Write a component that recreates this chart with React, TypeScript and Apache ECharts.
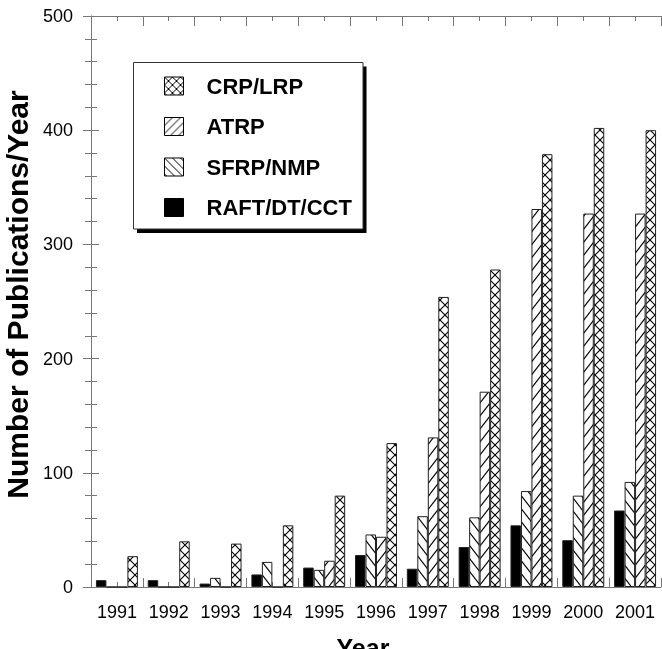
import React, { useEffect, useRef } from "react";
import * as echarts from "echarts";

const years = ["1991", "1992", "1993", "1994", "1995", "1996", "1997", "1998", "1999", "2000", "2001"];
const raftValues = [6, 6, 3, 11, 17, 28, 16, 35, 54, 41, 67];
const sfrpValues = [0, 0, 8, 22, 15, 46, 62, 61, 84, 80, 92];
const atrpValues = [0, 0, 0, 0, 23, 44, 131, 171, 331, 327, 327];
const crpValues = [27, 40, 38, 54, 80, 126, 254, 278, 379, 402, 400];
const seriesNames = ["RAFT/DT/CCT", "SFRP/NMP", "ATRP", "CRP/LRP"];
const legendOrder = ["CRP/LRP", "ATRP", "SFRP/NMP", "RAFT/DT/CCT"];

const FONT = "'Liberation Sans', Arial, Helvetica, sans-serif";

function hatch(fwd: boolean, back: boolean, w: number, h: number, lw: number) {
  const c = document.createElement("canvas");
  c.width = w;
  c.height = h;
  const g = c.getContext("2d")!;
  g.fillStyle = "#fff";
  g.fillRect(0, 0, w, h);
  g.strokeStyle = "#000";
  g.lineWidth = lw;
  for (const dx of [-w, 0, w]) {
    for (const dy of [-h, 0, h]) {
      g.beginPath();
      if (fwd) {
        g.moveTo(dx, dy + h);
        g.lineTo(dx + w, dy);
      }
      if (back) {
        g.moveTo(dx, dy);
        g.lineTo(dx + w, dy + h);
      }
      g.stroke();
    }
  }
  return { image: c.toDataURL(), repeat: "repeat", imageWidth: w, imageHeight: h } as any;
}

export default function App() {
  const ref = useRef<HTMLDivElement>(null);
  useEffect(() => {
    if (!ref.current) return;
    const chart = echarts.init(ref.current, null, { renderer: "svg" });

    const barFill: Record<string, any> = {
      "RAFT/DT/CCT": "#000",
      "SFRP/NMP": hatch(false, true, 10, 13, 1.1),
      ATRP: hatch(true, false, 10, 13, 1.1),
      "CRP/LRP": hatch(true, true, 10, 10, 1.1),
    };
    const legendFill: Record<string, any> = {
      "RAFT/DT/CCT": "#000",
      "SFRP/NMP": hatch(false, true, 8, 8, 1),
      ATRP: hatch(true, false, 8, 8, 1),
      "CRP/LRP": hatch(true, true, 8, 8, 1),
    };
    const values: Record<string, number[]> = {
      "RAFT/DT/CCT": raftValues,
      "SFRP/NMP": sfrpValues,
      ATRP: atrpValues,
      "CRP/LRP": crpValues,
    };

    const axisGray = "#777";

    chart.setOption({
      animation: false,
      textStyle: { fontFamily: FONT },
      grid: { left: 91, right: 1, top: 16, bottom: 62, containLabel: false, outerBoundsMode: "none" },
      graphic: [
        { type: "rect", z: 1, shape: { x: 137, y: 66.5, width: 229.5, height: 166.5 }, style: { fill: "#000" } },
        { type: "rect", z: 2, shape: { x: 133.5, y: 62.5, width: 229.5, height: 166.5 }, style: { fill: "#fff", stroke: "#333", lineWidth: 1 } },
      ],
      legend: {
        z: 10,
        orient: "vertical",
        left: 164,
        top: 75,
        padding: 0,
        itemWidth: 19,
        itemHeight: 18,
        itemGap: 18.5,
        icon: "rect",
        itemStyle: { borderColor: "#000", borderWidth: 1 },
        textStyle: { fontSize: 22, fontWeight: "bold", color: "#000", fontFamily: FONT, padding: [0, 0, 0, 18] },
        data: legendOrder.map((n) => ({ name: n, itemStyle: { color: legendFill[n], borderColor: "#000", borderWidth: 1 } })),
      },
      xAxis: [
        {
          type: "category",
          data: years,
          position: "bottom",
          axisLine: { lineStyle: { color: axisGray } },
          axisTick: { show: false },
          axisLabel: { color: "#000", fontSize: 18, fontFamily: FONT, margin: 16, interval: 0 },
          name: "Year",
          nameLocation: "middle",
          nameGap: 48,
          nameMoveOverlap: false,
          nameTextStyle: { fontSize: 25, fontWeight: "bold", color: "#000", fontFamily: FONT, lineHeight: 26, padding: [0, 26, 0, 0] },
        },
        {
          type: "value",
          min: 0,
          max: 11,
          interval: 1,
          position: "bottom",
          axisLine: { show: false },
          axisLabel: { show: false },
          splitLine: { show: false },
          axisTick: { show: true, inside: true, length: 9, lineStyle: { color: axisGray } },
          minorTick: { show: true, splitNumber: 2, length: 5, lineStyle: { color: axisGray } },
        },
        {
          type: "value",
          min: 0,
          max: 11,
          interval: 1,
          position: "top",
          axisLine: { show: true, lineStyle: { color: axisGray } },
          axisLabel: { show: false },
          splitLine: { show: false },
          axisTick: { show: true, inside: true, length: 10, lineStyle: { color: axisGray } },
          minorTick: { show: true, splitNumber: 2, length: 5, lineStyle: { color: axisGray } },
        },
      ],
      yAxis: [
        {
          type: "value",
          min: 0,
          max: 500,
          interval: 100,
          position: "left",
          axisLine: { show: true, lineStyle: { color: axisGray } },
          axisTick: { show: true, inside: true, length: 8, lineStyle: { color: axisGray } },
          minorTick: { show: true, splitNumber: 5, length: 6, lineStyle: { color: axisGray } },
          splitLine: { show: false },
          axisLabel: { color: "#000", fontSize: 18, fontFamily: FONT, margin: 18 },
          name: "Number of Publications/Year",
          nameLocation: "middle",
          nameGap: 44,
          nameTextStyle: { fontSize: 30, fontWeight: "bold", color: "#000", fontFamily: FONT, padding: [0, 0, 0, 14] },
        },
        {
          type: "value",
          min: 0,
          max: 500,
          interval: 100,
          position: "right",
          axisLine: { show: true, lineStyle: { color: axisGray } },
          axisTick: { show: true, inside: true, length: 8, lineStyle: { color: axisGray } },
          minorTick: { show: true, splitNumber: 5, length: 6, lineStyle: { color: axisGray } },
          splitLine: { show: false },
          axisLabel: { show: false },
        },
      ],
      series: seriesNames.map((n) => ({
        name: n,
        type: "bar",
        xAxisIndex: 0,
        yAxisIndex: 0,
        data: values[n],
        barGap: "0%",
        barCategoryGap: "19%",
        z: 3,
        itemStyle: { color: barFill[n], borderColor: "#222", borderWidth: 1 },
      })),
    });
    return () => chart.dispose();
  }, []);
  return <div ref={ref} style={{ position: "fixed", left: 0, top: 0, width: 662, height: 649 }} />;
}
